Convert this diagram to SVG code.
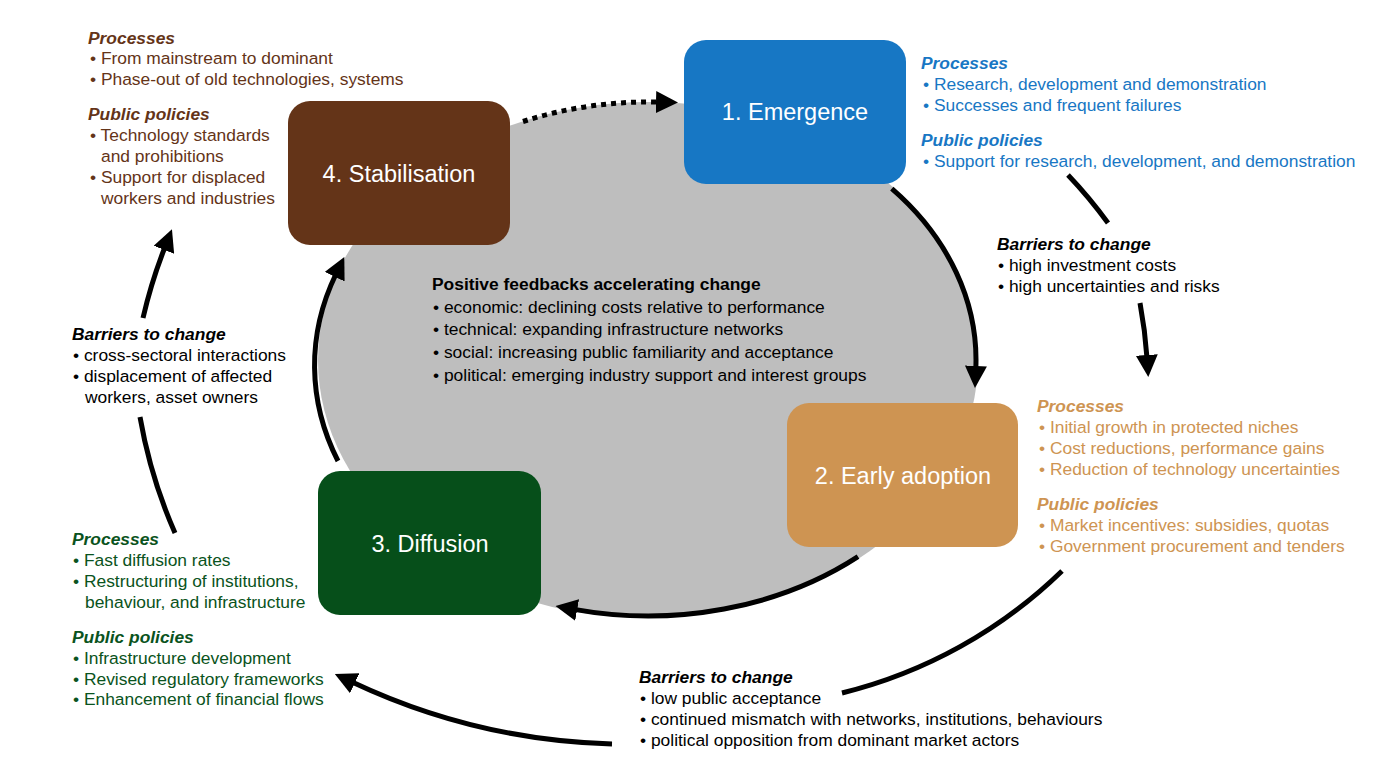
<svg xmlns="http://www.w3.org/2000/svg" width="1379" height="776" viewBox="0 0 1379 776">
<style>
text { font-family: "Liberation Sans", Arial, Helvetica, sans-serif; font-size: 17.4px; }
.h { font-weight: bold; font-style: italic; }
.hb { font-weight: bold; }
.lbl { font-size: 23.5px; fill: #ffffff; text-anchor: middle; }
.brown { fill: #643418; }
.blue { fill: #1877C4; }
.tan { fill: #CE9452; }
.green { fill: #0A5320; }
.black { fill: #000000; }
.arr { fill: none; stroke: #000000; stroke-width: 5; }
.dot { stroke-dasharray: 5 5; }
</style>
<defs>
<marker id="ah" viewBox="0 0 22 22" markerWidth="22" markerHeight="22" markerUnits="userSpaceOnUse" refX="3" refY="11" orient="auto">
<path d="M0,0 L22,11 L0,22 Z" fill="#000000"/>
</marker>
</defs>
<rect width="1379" height="776" fill="#ffffff"/>
<ellipse id="feedback-area" cx="648" cy="360" rx="330" ry="258" fill="#BEBEBE"/>

<g id="connectors">
<path class="arr dot" d="M 523 121.5 A 330 258 0 0 1 659 102.1" marker-end="url(#ah)"/>
<path class="arr" d="M 891.8 188.7 A 328 256 0 0 1 975.8 368.9" marker-end="url(#ah)"/>
<path class="arr" d="M 858 556.7 A 328 256 0 0 1 574.2 609.4" marker-end="url(#ah)"/>
<path class="arr" d="M 338 461 A 330 258 0 0 1 336 274" marker-end="url(#ah)"/>
<path class="arr" d="M 1068 175 A 480 480 0 0 1 1108 223"/>
<path class="arr" d="M 1140 303 A 480 480 0 0 1 1147 358" marker-end="url(#ah)"/>
<path class="arr" d="M 1062 571 A 480 480 0 0 1 842 693"/>
<path class="arr" d="M 612 744 A 650 650 0 0 1 352 682" marker-end="url(#ah)"/>
<path class="arr" d="M 175 533 A 500 500 0 0 1 140 417"/>
<path class="arr" d="M 143 318 A 500 500 0 0 1 165 247" marker-end="url(#ah)"/>
</g>

<g id="node-emergence">
<rect x="684" y="40" width="222" height="144" rx="22" fill="#1777C4"/>
<text class="lbl" x="795" y="120">1. Emergence</text>
</g>
<g id="node-stabilisation">
<rect x="288" y="101" width="222" height="144" rx="22" fill="#643418"/>
<text class="lbl" x="399" y="182">4. Stabilisation</text>
</g>
<g id="node-early-adoption">
<rect x="787" y="403" width="231" height="144" rx="22" fill="#CE9452"/>
<text class="lbl" x="903" y="484">2. Early adoption</text>
</g>
<g id="node-diffusion">
<rect x="318" y="471" width="223" height="144" rx="22" fill="#064F1A"/>
<text class="lbl" x="430" y="552">3. Diffusion</text>
</g>

<g id="text-stabilisation">
<text class="h brown" x="88" y="44">Processes</text>
<text class="brown" x="90" y="64">• From mainstream to dominant</text>
<text class="brown" x="90" y="85">• Phase-out of old technologies, systems</text>
<text class="h brown" x="88" y="120">Public policies</text>
<text class="brown" x="90" y="141">• Technology standards</text>
<text class="brown" x="101" y="162">and prohibitions</text>
<text class="brown" x="90" y="183">• Support for displaced</text>
<text class="brown" x="101" y="204">workers and industries</text>
</g>

<g id="text-emergence">
<text class="h blue" x="921" y="69">Processes</text>
<text class="blue" x="923" y="90">• Research, development and demonstration</text>
<text class="blue" x="923" y="111">• Successes and frequent failures</text>
<text class="h blue" x="921" y="146">Public policies</text>
<text class="blue" x="923" y="167">• Support for research, development, and demonstration</text>
</g>

<g id="barriers-1">
<text class="h black" x="997" y="250">Barriers to change</text>
<text class="black" x="998" y="271">• high investment costs</text>
<text class="black" x="998" y="292">• high uncertainties and risks</text>
</g>

<g id="feedbacks">
<text class="hb black" x="432" y="290">Positive feedbacks accelerating change</text>
<text class="black" x="433" y="313">• economic: declining costs relative to performance</text>
<text class="black" x="433" y="335">• technical: expanding infrastructure networks</text>
<text class="black" x="433" y="358">• social: increasing public familiarity and acceptance</text>
<text class="black" x="433" y="381">• political: emerging industry support and interest groups</text>
</g>

<g id="barriers-4">
<text class="h black" x="72" y="340">Barriers to change</text>
<text class="black" x="73" y="361">• cross-sectoral interactions</text>
<text class="black" x="73" y="382">• displacement of affected</text>
<text class="black" x="85" y="403">workers, asset owners</text>
</g>

<g id="text-early-adoption">
<text class="h tan" x="1037" y="412">Processes</text>
<text class="tan" x="1039" y="433">• Initial growth in protected niches</text>
<text class="tan" x="1039" y="454">• Cost reductions, performance gains</text>
<text class="tan" x="1039" y="475">• Reduction of technology uncertainties</text>
<text class="h tan" x="1037" y="510">Public policies</text>
<text class="tan" x="1039" y="531">• Market incentives: subsidies, quotas</text>
<text class="tan" x="1039" y="552">• Government procurement and tenders</text>
</g>

<g id="text-diffusion">
<text class="h green" x="72" y="545">Processes</text>
<text class="green" x="73" y="566">• Fast diffusion rates</text>
<text class="green" x="73" y="587">• Restructuring of institutions,</text>
<text class="green" x="85" y="608">behaviour, and infrastructure</text>
<text class="h green" x="72" y="643">Public policies</text>
<text class="green" x="73" y="664">• Infrastructure development</text>
<text class="green" x="73" y="685">• Revised regulatory frameworks</text>
<text class="green" x="73" y="705">• Enhancement of financial flows</text>
</g>

<g id="barriers-2">
<text class="h black" x="639" y="683">Barriers to change</text>
<text class="black" x="640" y="704">• low public acceptance</text>
<text class="black" x="640" y="725">• continued mismatch with networks, institutions, behaviours</text>
<text class="black" x="640" y="746">• political opposition from dominant market actors</text>
</g>
</svg>
